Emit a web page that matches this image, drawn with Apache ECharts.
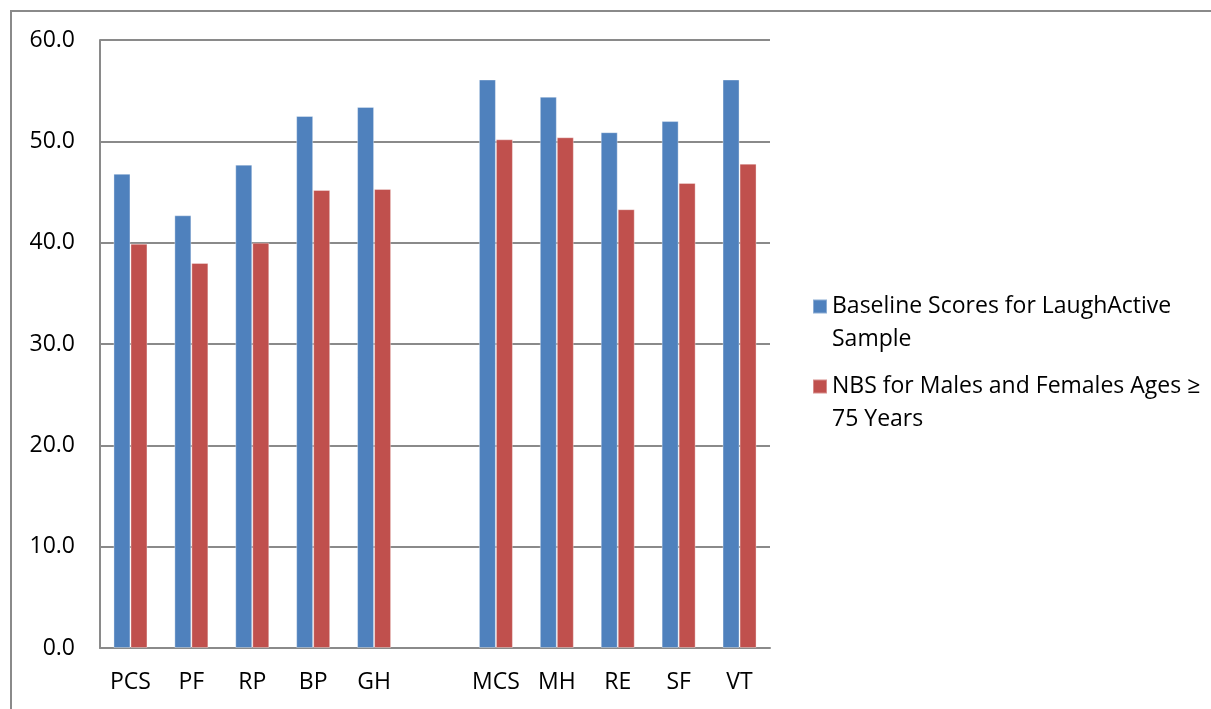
<!DOCTYPE html>
<html>
<head>
<meta charset="utf-8">
<script src="https://cdn.jsdelivr.net/npm/echarts@6/dist/echarts.min.js"></script>
<style>
  html, body { margin: 0; padding: 0; background: #ffffff; }
  #chart { width: 1211px; height: 709px; }
</style>
</head>
<body>
<div id="chart"></div>
<script>
// SF-36 component and scale scores
const categories = ['PCS', 'PF', 'RP', 'BP', 'GH', '', 'MCS', 'MH', 'RE', 'SF', 'VT'];
const baselineName = 'Baseline Scores for LaughActive Sample';
const normName = 'NBS for Males and Females Ages \u2265 75 Years';
const baselineScores = [46.8, 42.7, 47.7, 52.5, 53.4, null, 56.1, 54.4, 50.9, 52.0, 56.1];
const normScores = [39.9, 38.0, 40.0, 45.2, 45.3, null, 50.2, 50.4, 43.3, 45.9, 47.8];
const yTicks = { min: 0, max: 60, interval: 10 };

// Legend labels wrap onto two lines; a leading blank line keeps the swatch beside the first line
const legendLines = {};
legendLines[baselineName] = ['', 'Baseline Scores for LaughActive', 'Sample'];
legendLines[normName] = ['', 'NBS for Males and Females Ages \u2265', '75 Years'];

const FONT = '"Open Sans", "DejaVu Sans", sans-serif';
const GRID_GRAY = '#8a8a8a';

const legendCommon = {
  orient: 'vertical',
  left: 812,
  padding: 0,
  itemWidth: 14,
  itemHeight: 14,
  itemGap: 0,
  selectedMode: false,
  icon: 'rect',
  formatter: name => legendLines[name].join('\n'),
  textStyle: { fontFamily: FONT, fontSize: 23, color: '#000000', lineHeight: 33, padding: [0, 0, 0, 0] }
};

const chart = echarts.init(document.getElementById('chart'), null, { renderer: 'canvas' });
chart.setOption({
  backgroundColor: '#ffffff',
  animation: false,
  textStyle: { fontFamily: FONT },
  graphic: [{
    type: 'polyline',
    shape: { points: [[11, 709], [11, 11], [1211, 11]] },
    style: { stroke: GRID_GRAY, lineWidth: 2, fill: null },
    silent: true
  }],
  legend: [
    Object.assign({}, legendCommon, { top: 257, data: [baselineName] }),
    Object.assign({}, legendCommon, { top: 337, data: [normName] })
  ],
  grid: { left: 100, right: 441, top: 40, bottom: 61, containLabel: false },
  xAxis: {
    type: 'category',
    data: categories,
    axisLine: { lineStyle: { color: GRID_GRAY, width: 2 } },
    axisTick: { show: false },
    axisLabel: { fontFamily: FONT, fontSize: 23, color: '#000000', margin: 23, interval: 0 }
  },
  yAxis: {
    type: 'value',
    min: yTicks.min,
    max: yTicks.max,
    interval: yTicks.interval,
    axisLine: { show: true, lineStyle: { color: GRID_GRAY, width: 2 } },
    axisTick: { show: false },
    splitLine: { lineStyle: { color: GRID_GRAY, width: 2 } },
    axisLabel: {
      fontFamily: FONT, fontSize: 23, color: '#000000', margin: 25,
      formatter: v => v.toFixed(1)
    }
  },
  series: [
    {
      name: baselineName,
      type: 'bar',
      data: baselineScores,
      barWidth: 17,
      barGap: '0%',
      itemStyle: { color: '#4f81bd', borderColor: 'rgba(255,255,255,0.35)', borderWidth: 1 }
    },
    {
      name: normName,
      type: 'bar',
      data: normScores,
      barWidth: 17,
      barGap: '0%',
      itemStyle: { color: '#c0504d', borderColor: 'rgba(255,255,255,0.35)', borderWidth: 1 }
    }
  ]
});
</script>
</body>
</html>
